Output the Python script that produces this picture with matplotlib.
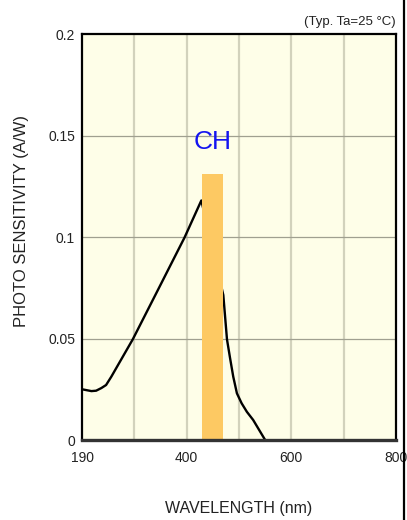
import numpy as np
import matplotlib.pyplot as plt
from matplotlib.lines import Line2D

plt.rcParams['font.family'] = ['Liberation Sans', 'DejaVu Sans']

# spectral response curve (nm, A/W); the part under the CH band is hidden by the bar
wl = [200, 218, 227, 237, 246, 256, 297, 345, 396, 428,
      470, 477, 483, 489, 496, 505, 515, 527, 550]
sens = [0.0250, 0.0241, 0.0243, 0.0256, 0.0271, 0.0312, 0.0496, 0.0739, 0.0998, 0.118,
        0.0714, 0.0496, 0.0402, 0.0312, 0.0230, 0.0181, 0.0139, 0.0099, 0.0]

# CH channel band
ch_center = 450
ch_width = 40
ch_height = 0.131

xticks = [200, 400, 600, 800]
xtick_labels = ['190', '400', '600', '800']
yticks = [0, 0.05, 0.1, 0.15, 0.2]
ytick_labels = ['0', '0.05', '0.1', '0.15', '0.2']

fig = plt.figure(figsize=(4.07, 5.2), dpi=100)
ax = fig.add_axes([0.2015, 0.1538, 0.7715, 0.7808])
ax.set_facecolor('#fefee8')

ax.set_xlim(200, 800)
ax.set_ylim(0, 0.2)

# grid
for x in [300, 400, 500, 600, 700]:
    ax.axvline(x, color='#d2d2bc', lw=1.6, zorder=1)
for y in [0.05, 0.1, 0.15]:
    ax.axhline(y, color='#a0a090', lw=0.9, zorder=1)

ax.plot(wl, sens, color='black', lw=1.7, zorder=2,
        solid_joinstyle='round', solid_capstyle='round')
ax.bar(ch_center, ch_height, width=ch_width, color='#fdc963', zorder=3)
ax.text(ch_center, 0.147, 'CH', color='#1414f0', fontsize=19,
        ha='center', va='center', zorder=4)

ax.set_xticks(xticks)
ax.set_xticklabels(xtick_labels)
ax.set_yticks(yticks)
ax.set_yticklabels(ytick_labels)
ax.tick_params(axis='both', length=0, labelsize=10, colors='#222222')
ax.tick_params(axis='x', pad=8)
ax.tick_params(axis='y', pad=5)

for side in ['left', 'top', 'right']:
    ax.spines[side].set_linewidth(1.6)
    ax.spines[side].set_color('black')
ax.spines['bottom'].set_linewidth(2.4)
ax.spines['bottom'].set_color('#333333')
for s in ax.spines.values():
    s.set_zorder(5)

ax.set_xlabel('WAVELENGTH (nm)', fontsize=11.5, color='#222222')
ax.xaxis.set_label_coords(0.5, -0.15)
ax.set_ylabel('PHOTO SENSITIVITY (A/W)', fontsize=12, color='#222222')
ax.yaxis.set_label_coords(-0.17, 0.54)

fig.text(0.973, 0.957, '(Typ. Ta=25 °C)', ha='right', va='center',
         fontsize=9.5, color='#222222')

# frame edge on the right
fig.add_artist(Line2D([0.993, 0.993], [0, 1], transform=fig.transFigure,
                      color='black', lw=1.6))

fig.savefig('out.png', dpi=100)
